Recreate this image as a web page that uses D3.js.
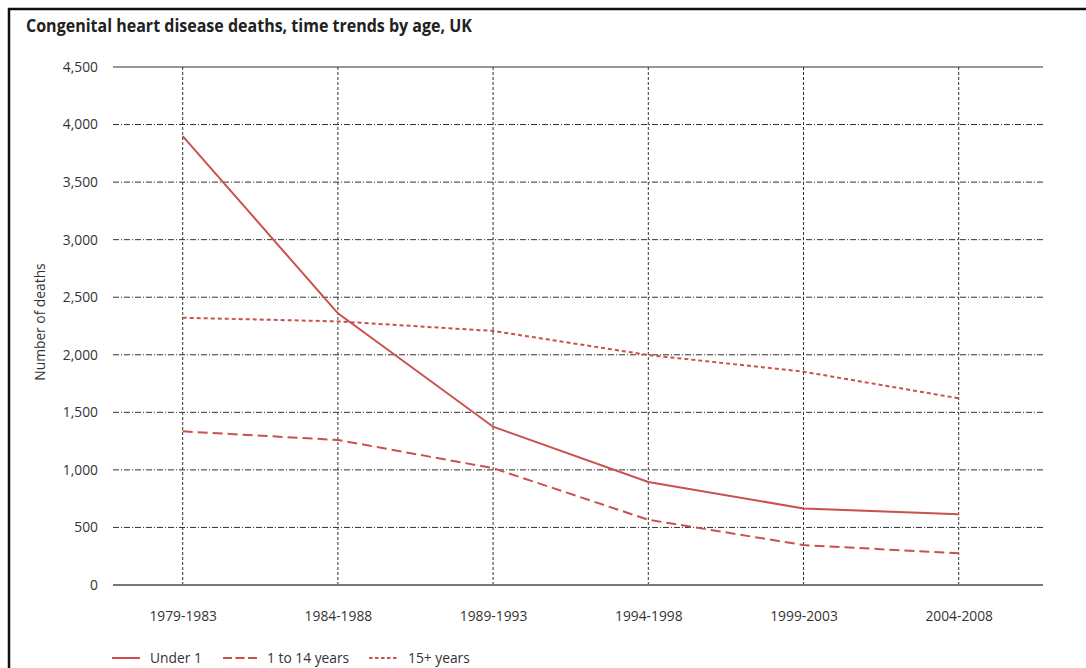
<!DOCTYPE html>
<html><head><meta charset="utf-8">
<script src="https://cdn.jsdelivr.net/npm/d3@7"></script>
<style>body{margin:0;background:#fff;}svg{display:block;}</style>
</head><body>
<svg id="c" width="1086" height="668"></svg>
<script>
const categories = ["1979-1983","1984-1988","1989-1993","1994-1998","1999-2003","2004-2008"];
const under1 = [3900, 2360, 1375, 895, 665, 615];
const age1to14 = [1335, 1260, 1015, 567, 347, 275];
const age15plus = [2322, 2290, 2207, 1998, 1853, 1622];
const yTicks = [0,500,1000,1500,2000,2500,3000,3500,4000,4500];
const seriesNames = ["Under 1","1 to 14 years","15+ years"];

(function(){
const svg = d3.select("#c");
const font = "'Open Sans', 'Noto Sans', sans-serif";
const red = "#c9514e";
const pLeft = 113, pRight = 1043, pTop = 67, pBottom = 585;
const fs = 13.8;

// frame
svg.append("path").attr("d","M9,668 V9 H1086").attr("fill","none").attr("stroke","#111").attr("stroke-width",2.5);

svg.append("text").attr("x",26).attr("y",32).attr("font-family",font).attr("font-weight",700)
  .attr("font-size",18.5).attr("fill","#222")
  .attr("textLength",446).attr("lengthAdjust","spacingAndGlyphs")
  .text("Congenital heart disease deaths, time trends by age, UK");

const x = d3.scalePoint().domain(categories).range([182.7, 958.7]);
const y = d3.scaleLinear().domain([0,4500]).range([pBottom, pTop]);

// horizontal grid
svg.append("g").selectAll("line").data(yTicks.filter(t=>t>0 && t<4500)).join("line")
  .attr("x1",pLeft).attr("x2",pRight).attr("y1",d=>y(d)).attr("y2",d=>y(d))
  .attr("stroke","#333").attr("stroke-width",1).attr("stroke-dasharray","6,2,1,2");
// vertical grid
svg.append("g").selectAll("line").data(categories).join("line")
  .attr("x1",d=>x(d)).attr("x2",d=>x(d)).attr("y1",pTop).attr("y2",pBottom)
  .attr("stroke","#333").attr("stroke-width",1).attr("stroke-dasharray","3,2");
// top line & bottom axis
svg.append("line").attr("x1",pLeft).attr("x2",pRight).attr("y1",y(4500)).attr("y2",y(4500)).attr("stroke","#333").attr("stroke-width",1.2);
svg.append("line").attr("x1",pLeft).attr("x2",pRight).attr("y1",y(0)).attr("y2",y(0)).attr("stroke","#777").attr("stroke-width",2);

// y axis
const yAxis = d3.axisLeft(y).tickValues(yTicks).tickSize(0).tickPadding(0).tickFormat(d3.format(","));
const gy = svg.append("g").attr("transform","translate(98,0)").call(yAxis);
gy.select(".domain").remove();
gy.selectAll("text").attr("font-family",font).attr("font-size",fs).attr("fill","#333");

// x axis
const xAxis = d3.axisBottom(x).tickSize(0).tickPadding(0);
const gx = svg.append("g").attr("transform","translate(0,611)").call(xAxis);
gx.select(".domain").remove();
gx.selectAll("text").attr("font-family",font).attr("font-size",fs).attr("fill","#333");

svg.append("text").attr("transform","translate(45,322) rotate(-90)").attr("text-anchor","middle")
  .attr("font-family",font).attr("font-size",fs).attr("fill","#333").text("Number of deaths");

const line = d3.line().x((d,i)=>x(categories[i])).y(d=>y(d));
const styles = [null, "10,5", "4,3"];
[under1, age1to14, age15plus].forEach((s,i)=>{
  svg.append("path").datum(s).attr("d",line).attr("fill","none").attr("stroke",red)
    .attr("stroke-width",2).attr("stroke-dasharray",styles[i]);
});

// legend
const legX = [112, 223, 369];
const legW = [28, 34, 29];
const legStyles = [null, "9,3.5", "3.5,2.5"];
seriesNames.forEach((n,i)=>{
  svg.append("line").attr("x1",legX[i]).attr("x2",legX[i]+legW[i]).attr("y1",658).attr("y2",658)
    .attr("stroke",red).attr("stroke-width",2).attr("stroke-dasharray",legStyles[i]);
  svg.append("text").attr("x",legX[i]+legW[i]+10).attr("y",663).attr("font-family",font)
    .attr("font-size",fs).attr("fill","#333").text(n);
});
})();
</script>
</body></html>
